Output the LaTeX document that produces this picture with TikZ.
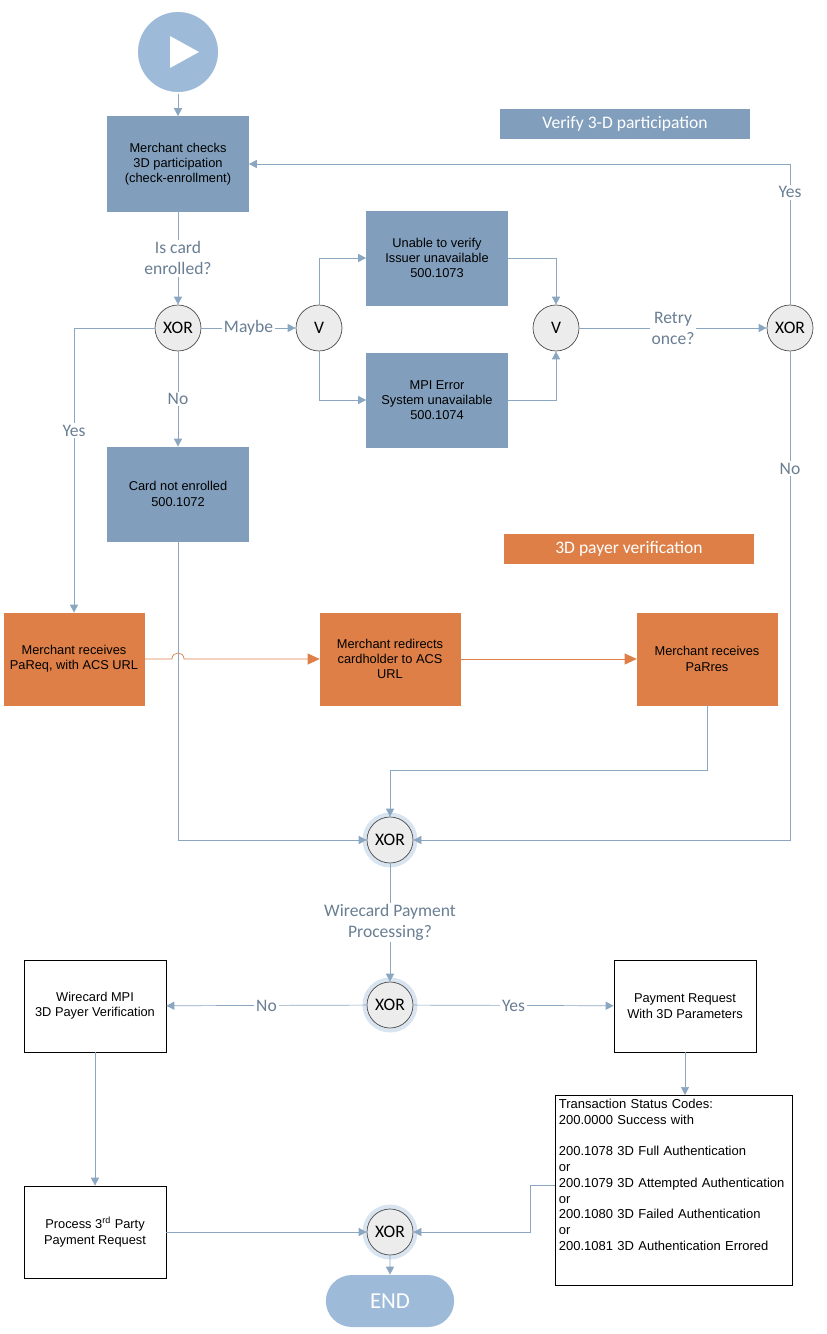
\documentclass[tikz,border=0pt]{standalone}
\usepackage{fontspec}
\setmainfont{Liberation Sans}
\newfontfamily\lblfont{Carlito}
\usetikzlibrary{arrows.meta, positioning, shapes.misc}
\definecolor{steel}{HTML}{819FBC}
\definecolor{lightsteel}{HTML}{9DBBD8}
\definecolor{flowline}{HTML}{8AA6C1}
\definecolor{lbltext}{HTML}{6A7E93}
\definecolor{orng}{HTML}{DE7F47}
\definecolor{gatefill}{HTML}{ECECEC}

\begin{document}
\begin{tikzpicture}[x=0.02cm, y=-0.02cm,
    task/.style={rectangle, draw=steel, fill=steel, minimum width=2.82cm, minimum height=1.88cm, align=center, font=\fontsize{7.3}{8.7}\selectfont},
    payer/.style={rectangle, draw=orng, fill=orng, minimum width=2.8cm, minimum height=1.84cm, align=center, font=\fontsize{7.3}{8.7}\selectfont},
    plain/.style={rectangle, draw=black, fill=white, minimum width=2.84cm, minimum height=1.84cm, align=center, font=\fontsize{7.3}{8.7}\selectfont},
    gate/.style={circle, draw=black!70, fill=gatefill, minimum size=0.92cm, inner sep=0pt, font=\lblfont\fontsize{10}{10}\selectfont},
    halo/.style={circle, draw=none, fill=lightsteel!40, minimum size=1.1cm, inner sep=0pt},
    title/.style={rectangle, minimum width=5cm, minimum height=0.6cm, text=white, font=\lblfont\fontsize{10}{12}\selectfont},
    label/.style={text=lbltext, align=center, font=\lblfont\fontsize{10}{12}\selectfont, fill=white, inner sep=1pt},
    arrow/.style={draw=flowline, -{Triangle[length=1.6mm, width=1.6mm]}},
    oarrow/.style={draw=orng, -{Triangle[length=2.4mm, width=2.2mm]}}
]
    \useasboundingbox (0,0) rectangle (827,1334);

    % Start
    \node[circle, fill=lightsteel, draw=white, line width=1pt, minimum size=1.64cm] (start) at (178,52) {};
    \fill[white] (170,36) -- (170,68) -- (199,52) -- cycle;

    % Verify 3-D participation
    \node[title, fill=steel] (verifytitle) at (625,124) {Verify 3-D participation};
    \node[task, minimum height=1.9cm] (checks) at (178,164) {Merchant checks\\3D participation\\(check-enrollment)};
    \node[gate] (xorenrol) at (178,328) {XOR};
    \node[gate] (vsplit) at (319,328) {V};
    \node[task] (unable) at (437,258) {Unable to verify\\Issuer unavailable\\500.1073};
    \node[task] (mpierr) at (437,400) {MPI Error\\System unavailable\\500.1074};
    \node[gate] (vjoin) at (556,328) {V};
    \node[gate] (xorretry) at (790,328) {XOR};
    \node[task] (notenrol) at (178,494) {Card not enrolled\\500.1072};

    \draw[arrow] (start) -- (checks);
    \draw[arrow] (checks) -- node[label] {Is card\\enrolled?} (xorenrol);
    \draw[arrow] (xorenrol) -- node[label] {Maybe} (vsplit);
    \draw[arrow] (vsplit.north) |- (unable.west);
    \draw[arrow] (vsplit.south) |- (mpierr.west);
    \draw[arrow] (unable.east) -| (vjoin.north);
    \draw[arrow] (mpierr.east) -| (vjoin.south);
    \draw[arrow] (vjoin) -- node[label] {Retry\\once?} (xorretry);
    \draw[arrow] (xorretry.north) -- node[label, pos=0.8] {Yes} (790,164) -- (checks.east);
    \draw[arrow] (xorenrol) -- node[label] {No} (notenrol);

    % 3D payer verification
    \node[title, fill=orng] (payertitle) at (629,549) {3D payer verification};
    \node[payer] (pareq) at (74,659) {Merchant receives\\PaReq, with ACS URL};
    \node[payer] (redirect) at (390,659) {Merchant redirects\\cardholder to ACS\\URL};
    \node[payer] (pares) at (707,659) {Merchant receives\\PaRres};
    \node[halo] at (390,840) {};
    \node[gate] (xormerge) at (390,840) {XOR};

    \draw[arrow] (xorenrol.west) -| node[label, pos=0.68] {Yes} (pareq.north);
    \draw[oarrow] (pareq.east) -- (172,659) .. controls (172,651) and (184,651) .. (184,659) -- (redirect.west);
    \draw[oarrow] (redirect) -- (pares);
    \draw[arrow] (notenrol.south) |- (xormerge.west);
    \draw[arrow] (pares.south) |- (390,770) -- (xormerge.north);
    \draw[arrow] (xorretry.south) -- node[label, pos=0.24] {No} (790,840) -- (xormerge.east);

    % Wirecard processing
    \node[halo] at (390,1005) {};
    \node[gate] (xorwire) at (390,1005) {XOR};
    \node[plain] (mpi) at (95,1006) {Wirecard MPI\\3D Payer Verification};
    \node[plain] (payreq) at (685,1006) {Payment Request\\With 3D Parameters};
    \node[rectangle, draw=black, fill=white, minimum width=4.66cm, minimum height=3.76cm, align=left, anchor=north west, inner sep=2pt, text width=4.6cm, font=\fontsize{7.4}{9}\selectfont] (status) at (555,1095) {\hyphenpenalty=10000\relax Transaction Status Codes:\\200.0000 Success with\\[9pt]200.1078 3D Full Authentication\\or\\200.1079 3D Attempted Authentication\\or\\200.1080 3D Failed Authentication\\or\\200.1081 3D Authentication Errored\\[9pt]\mbox{}};
    \node[plain] (thirdparty) at (95,1232) {Process 3\textsuperscript{rd} Party\\Payment Request};
    \node[halo] at (390,1232) {};
    \node[gate] (xorend) at (390,1232) {XOR};
    \node[rounded rectangle, fill=lightsteel, minimum width=2.8cm, minimum height=1.04cm, text=white, font=\lblfont\fontsize{13}{13}\selectfont] (finish) at (390,1301) {END};

    \draw[arrow] (xormerge) -- node[label] {Wirecard Payment\\Processing?} (xorwire);
    \draw[arrow] (xorwire) -- node[label] {No} (mpi);
    \draw[arrow] (xorwire) -- node[label] {Yes} (payreq);
    \draw[arrow] (payreq.south) -- (payreq.south |- status.north);
    \draw[arrow] (mpi) -- (thirdparty);
    \draw[arrow] (thirdparty) -- (xorend);
    \draw[arrow] (status.west |- 0,1185) -- (530,1185) |- (xorend.east);
    \draw[arrow] (xorend) -- (finish);
\end{tikzpicture}
\end{document}
